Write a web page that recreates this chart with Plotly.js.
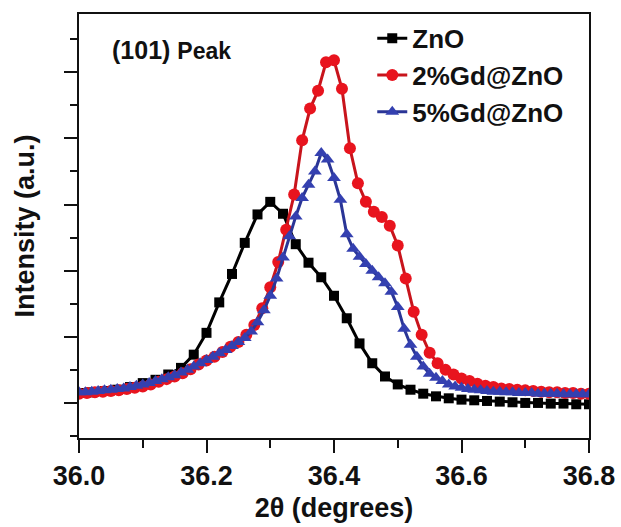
<!DOCTYPE html>
<html>
<head>
<meta charset="utf-8">
<script src="https://cdn.plot.ly/plotly-3.0.1.min.js"></script>
<style>html,body{margin:0;padding:0;background:#fff;}#chart{width:621px;height:527px;}</style>
</head>
<body>
<div id="chart"></div>
<script>
// ZnO (black squares)
var xZnO = [36.00,36.02,36.04,36.06,36.08,36.10,36.12,36.14,36.16,36.18,36.20,36.22,36.24,36.26,36.28,36.30,36.32,36.34,36.36,36.38,36.40,36.42,36.44,36.46,36.48,36.50,36.52,36.54,36.56,36.58,36.60,36.62,36.64,36.66,36.68,36.70,36.72,36.74,36.76,36.78,36.80];
var yZnO = [0.15,0.16,0.18,0.20,0.24,0.30,0.35,0.43,0.53,0.73,1.06,1.52,1.95,2.42,2.85,3.04,2.86,2.40,2.12,1.90,1.62,1.28,0.90,0.60,0.40,0.28,0.20,0.14,0.10,0.07,0.05,0.04,0.03,0.02,0.01,0.00,0.00,-0.01,-0.01,-0.02,-0.02];

// 2%Gd@ZnO (red circles)
var xGd2 = [36.0000,36.0125,36.0250,36.0375,36.0500,36.0625,36.0750,36.0875,36.1000,36.1125,36.1250,36.1375,36.1500,36.1625,36.1750,36.1875,36.2000,36.2125,36.2250,36.2375,36.2500,36.2625,36.2750,36.2875,36.3000,36.3125,36.3250,36.3375,36.3500,36.3625,36.3750,36.3875,36.4000,36.4125,36.4250,36.4375,36.4500,36.4625,36.4750,36.4875,36.5000,36.5125,36.5250,36.5375,36.5500,36.5625,36.5750,36.5875,36.6000,36.6125,36.6250,36.6375,36.6500,36.6625,36.6750,36.6875,36.7000,36.7125,36.7250,36.7375,36.7500,36.7625,36.7750,36.7875,36.8000];
var yGd2 = [0.14,0.15,0.16,0.17,0.18,0.19,0.21,0.23,0.25,0.28,0.32,0.36,0.40,0.45,0.51,0.58,0.64,0.70,0.77,0.85,0.92,1.03,1.18,1.43,1.75,2.13,2.62,3.15,3.97,4.45,4.72,5.15,5.18,4.75,3.85,3.32,3.04,2.89,2.81,2.68,2.38,1.88,1.38,1.03,0.76,0.60,0.50,0.43,0.37,0.33,0.29,0.26,0.24,0.22,0.21,0.20,0.19,0.18,0.17,0.16,0.16,0.15,0.15,0.14,0.14];

// 5%Gd@ZnO (blue triangles)
var xGd5 = [36.00,36.01,36.02,36.03,36.04,36.05,36.06,36.07,36.08,36.09,36.10,36.11,36.12,36.13,36.14,36.15,36.16,36.17,36.18,36.19,36.20,36.21,36.22,36.23,36.24,36.25,36.26,36.27,36.28,36.29,36.30,36.31,36.32,36.33,36.34,36.35,36.36,36.37,36.38,36.39,36.40,36.41,36.42,36.43,36.44,36.45,36.46,36.47,36.48,36.49,36.50,36.51,36.52,36.53,36.54,36.55,36.56,36.57,36.58,36.59,36.60,36.61,36.62,36.63,36.64,36.65,36.66,36.67,36.68,36.69,36.70,36.71,36.72,36.73,36.74,36.75,36.76,36.77,36.78,36.79,36.80];
var yGd5 = [0.16,0.16,0.17,0.18,0.19,0.20,0.21,0.22,0.24,0.26,0.28,0.30,0.33,0.36,0.39,0.42,0.46,0.50,0.55,0.60,0.65,0.70,0.75,0.80,0.86,0.92,0.98,1.08,1.22,1.40,1.62,1.88,2.20,2.52,2.82,3.10,3.30,3.50,3.78,3.68,3.40,3.07,2.55,2.33,2.21,2.10,2.00,1.90,1.81,1.68,1.45,1.12,0.88,0.70,0.55,0.44,0.38,0.33,0.28,0.25,0.23,0.21,0.20,0.19,0.18,0.17,0.17,0.16,0.16,0.15,0.15,0.15,0.14,0.14,0.14,0.14,0.13,0.13,0.13,0.13,0.13];

var seriesNames = ['ZnO', '2%Gd@ZnO', '5%Gd@ZnO'];
var xTickVals = [36.0, 36.2, 36.4, 36.6, 36.8];
var xTickText = ['36.0', '36.2', '36.4', '36.6', '36.8'];

var FONT = 'Liberation Sans, Arial, sans-serif';

var traces = [
  {x: xZnO, y: yZnO, name: seriesNames[0], type: 'scatter', mode: 'lines+markers',
   line: {color: '#000000', width: 3}, marker: {symbol: 'square', size: 10, color: '#000000'}},
  {x: xGd2, y: yGd2, name: seriesNames[1], type: 'scatter', mode: 'lines+markers',
   line: {color: '#c8141c', width: 3}, marker: {symbol: 'circle', size: 12, color: '#e8141e'}},
  {x: xGd5, y: yGd5, name: seriesNames[2], type: 'scatter', mode: 'lines+markers',
   line: {color: '#2a3596', width: 3}, marker: {symbol: 'triangle-up', size: 12, color: '#3440b0'}}
];

var layout = {
  width: 621, height: 527,
  margin: {l: 79, r: 32, t: 14, b: 89},
  paper_bgcolor: '#ffffff', plot_bgcolor: '#ffffff',
  font: {family: FONT, color: '#111', size: 24},
  showlegend: true,
  legend: {x: 0.575, y: 0.998, xanchor: 'left', yanchor: 'top', bgcolor: 'rgba(0,0,0,0)',
           font: {family: FONT, size: 26, color: '#111', weight: 'bold'}, tracegroupgap: 0, itemwidth: 30},
  xaxis: {
    range: [36.0, 36.8], tickmode: 'array', tickvals: xTickVals, ticktext: xTickText,
    ticks: 'outside', ticklen: 13, tickwidth: 2, tickcolor: '#111',
    minor: {dtick: 0.1, tick0: 36.0, ticks: 'outside', ticklen: 8, tickwidth: 2, tickcolor: '#111'},
    showline: true, linewidth: 2, linecolor: '#111', mirror: true,
    showgrid: false, zeroline: false,
    tickfont: {family: FONT, size: 27, color: '#111', weight: 'bold'},
    title: {text: '2θ (degrees)', font: {family: FONT, size: 27, color: '#111', weight: 'bold'}, standoff: 8}
  },
  yaxis: {
    range: [-0.53, 5.88], tickmode: 'linear', tick0: 0, dtick: 1,
    ticks: 'outside', ticklen: 13, tickwidth: 2, tickcolor: '#111',
    minor: {dtick: 0.5, tick0: 0, ticks: 'outside', ticklen: 7, tickwidth: 2, tickcolor: '#111'},
    showticklabels: false,
    showline: true, linewidth: 2, linecolor: '#111', mirror: true,
    showgrid: false, zeroline: false,
    title: {text: 'Intensity (a.u.)', font: {family: FONT, size: 27, color: '#111', weight: 'bold'}, standoff: 22}
  },
  annotations: [
    {xref: 'paper', yref: 'paper', x: 0.06, y: 0.915, xanchor: 'left', yanchor: 'middle', showarrow: false,
     text: '<b>(101)</b> <span style="font-size:23px"><b>Peak</b></span>',
     font: {family: FONT, size: 25, color: '#111'}}
  ]
};

Plotly.newPlot('chart', traces, layout, {displayModeBar: false, staticPlot: true});
</script>
</body>
</html>
